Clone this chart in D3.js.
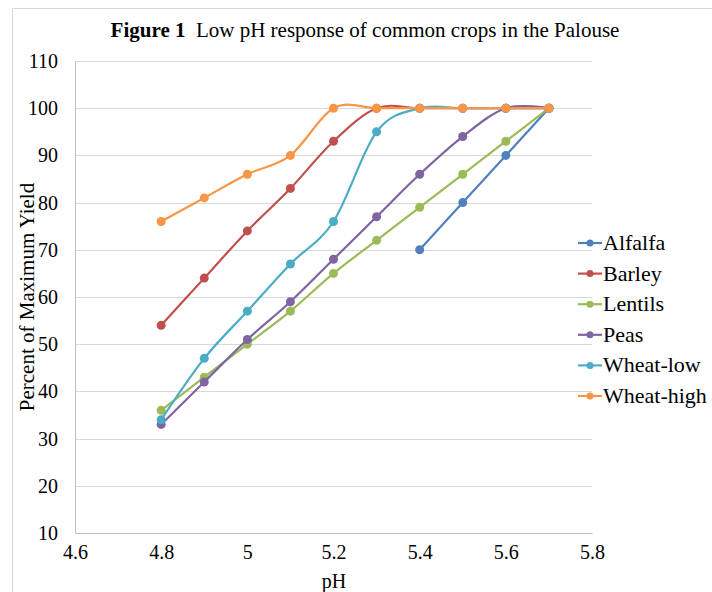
<!DOCTYPE html>
<html>
<head>
<meta charset="utf-8">
<script src="https://cdn.jsdelivr.net/npm/d3@7"></script>
<style>
  body { margin: 0; background: #fff; }
  svg, svg text { font-family: "Liberation Serif", serif; fill: #000; }
</style>
</head>
<body>
<div id="chart"></div>
<script>
const phValues = [4.8, 4.9, 5.0, 5.1, 5.2, 5.3, 5.4, 5.5, 5.6, 5.7];
const seriesNames = ['Alfalfa', 'Barley', 'Lentils', 'Peas', 'Wheat-low', 'Wheat-high'];
const alfalfa   = [null, null, null, null, null, null, 70, 80, 90, 100];
const barley    = [54, 64, 74, 83, 93, 100, 100, 100, 100, 100];
const lentils   = [36, 43, 50, 57, 65, 72, 79, 86, 93, 100];
const peas      = [33, 42, 51, 59, 68, 77, 86, 94, 100, 100];
const wheatLow  = [34, 47, 57, 67, 76, 95, 100, 100, 100, 100];
const wheatHigh = [76, 81, 86, 90, 100, 100, 100, 100, 100, 100];
const xTicks = [4.6, 4.8, 5.0, 5.2, 5.4, 5.6, 5.8];
const yTicks = [10, 20, 30, 40, 50, 60, 70, 80, 90, 100, 110];
const colors = ['#4F81BD', '#C0504D', '#9BBB59', '#8064A2', '#4BACC6', '#F79646'];

(function(){
const serif = 'Liberation Serif';
const seriesValues = [alfalfa, barley, lentils, peas, wheatLow, wheatHigh];
const series = seriesNames.map((name, i) => ({
    name,
    color: colors[i],
    points: phValues.map((ph, j) => ({ph, v: seriesValues[i][j]})).filter(d => d.v != null)
}));

const W = 712, H = 592;
const svg = d3.select('#chart').append('svg').attr('width', W).attr('height', H)
    .attr('font-family', serif);

// chart frame
svg.append('rect').attr('x', 12.5).attr('y', 8.5).attr('width', W).attr('height', H)
    .attr('fill', 'none').attr('stroke', '#D9D9D9');

const pl = 75, pr = 592, pt = 61, pb = 533;
const x = d3.scaleLinear().domain([4.6, 5.8]).range([pl, pr]);
const y = d3.scaleLinear().domain([10, 110]).range([pb, pt]);

// gridlines
svg.append('g').selectAll('line').data(yTicks.slice(1)).enter().append('line')
    .attr('x1', pl).attr('x2', pr)
    .attr('y1', d => Math.round(y(d)) + 0.5).attr('y2', d => Math.round(y(d)) + 0.5)
    .attr('stroke', '#D9D9D9').attr('stroke-width', 1);

// axes
const yAxis = svg.append('g').attr('transform', `translate(${pl},0)`)
    .call(d3.axisLeft(y).tickValues(yTicks).tickSize(0).tickPadding(17).tickFormat(d3.format('d')))
    .attr('font-family', serif).attr('font-size', 20);
yAxis.select('.domain').attr('stroke', '#BFBFBF');
const xAxis = svg.append('g').attr('transform', `translate(0,${pb})`)
    .call(d3.axisBottom(x).tickValues(xTicks).tickSize(0).tickPadding(12).tickFormat(d => String(+d.toFixed(1))))
    .attr('font-family', serif).attr('font-size', 20);
xAxis.select('.domain').attr('stroke', '#BFBFBF');

// title
const title = svg.append('text').attr('x', 365).attr('y', 37).attr('text-anchor', 'middle')
    .attr('font-size', 21);
title.append('tspan').attr('font-weight', 'bold').text('Figure 1');
title.append('tspan').text('\u00a0 Low pH response of common crops in the Palouse');

// axis titles
svg.append('text').attr('transform', 'translate(34,297) rotate(-90)').attr('text-anchor', 'middle')
    .attr('font-size', 21).text('Percent of Maximum Yield');
svg.append('text').attr('x', 334).attr('y', 588).attr('text-anchor', 'middle')
    .attr('font-size', 20).text('pH');

// lines
const line = d3.line().x(d => x(d.ph)).y(d => y(d.v)).curve(d3.curveCardinal.tension(0));
const g = svg.append('g');
series.forEach(s => {
    g.append('path').datum(s.points)
        .attr('fill', 'none').attr('stroke', s.color).attr('stroke-width', 2.2)
        .attr('d', line);
    g.selectAll(null).data(s.points).enter().append('circle')
        .attr('cx', d => x(d.ph)).attr('cy', d => y(d.v)).attr('r', 4.5)
        .attr('fill', s.color);
});

// legend
const legend = svg.append('g').attr('font-family', serif).attr('font-size', 22);
series.forEach((s, i) => {
    const ly = 243 + i * 30.6;
    legend.append('line').attr('x1', 578).attr('x2', 602).attr('y1', ly).attr('y2', ly)
        .attr('stroke', s.color).attr('stroke-width', 2.2);
    legend.append('circle').attr('cx', 590).attr('cy', ly).attr('r', 3.5).attr('fill', s.color);
    legend.append('text').attr('x', 603).attr('y', ly + 7).text(s.name);
});
})();
</script>
</body>
</html>
